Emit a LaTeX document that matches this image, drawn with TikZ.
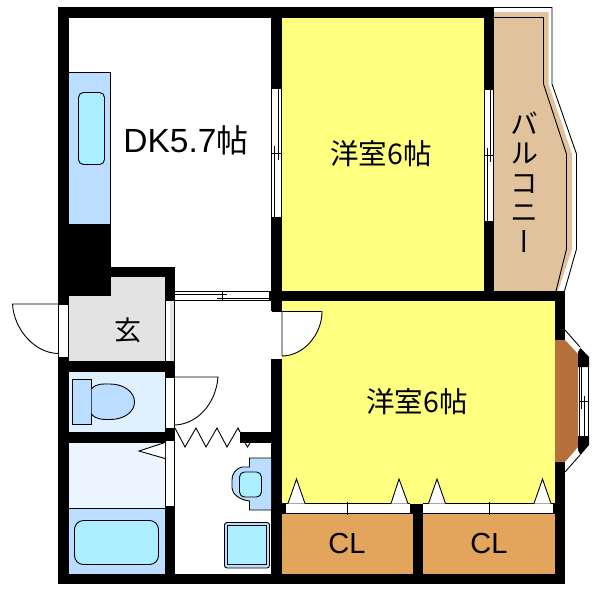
\documentclass[tikz,border=0pt]{standalone}
\usepackage{fontspec}
\setmainfont{Liberation Sans}
\newfontfamily\cjk{Noto Sans CJK JP}
\newfontfamily\cjkv[RawFeature=+vert]{Noto Sans CJK JP}
\definecolor{roomyellow}{HTML}{FFFF80}
\definecolor{counterblue}{HTML}{BBDDFF}
\definecolor{basinblue}{HTML}{AAEEFF}
\definecolor{toiletblue}{HTML}{DFF0FF}
\definecolor{washblue}{HTML}{EAF5FF}
\definecolor{entrygrey}{HTML}{E3E3E3}
\definecolor{balconytan}{HTML}{E0C29C}
\definecolor{closetorange}{HTML}{E3A55B}
\definecolor{baybrown}{HTML}{B5703C}
\tikzset{
  wall/.style={fill=black,draw=none},
  ln/.style={draw=black,line width=0.9pt},
  opening/.style={fill=white,draw=black,line width=0.9pt},
  fixture/.style={fill=counterblue,draw=black,line width=0.9pt},
  basin/.style={fill=basinblue,draw=black,line width=0.9pt},
  lbl/.style={inner sep=0pt,text=black},
}
\begin{document}
\begin{tikzpicture}[x=1pt,y=-1pt,line join=miter]
\useasboundingbox (0,0) rectangle (600,592);
\fill[white] (0,0) rectangle (600,592);
% room floors
\fill[roomyellow] (282,18) rectangle (484,291);
\fill[roomyellow] (282,301) rectangle (555,504);
\fill[closetorange] (282,514) rectangle (413,574);
\fill[closetorange] (423,514) rectangle (555,574);
\fill[entrygrey] (69,296) rectangle (165,361);
\fill[entrygrey] (111,277) rectangle (165,296);
\fill[toiletblue] (69,372) rectangle (165,432);
\fill[washblue] (69,443) rectangle (165,508);
\fill[counterblue] (69,508) rectangle (165,574);
% balcony
\draw[ln] (494,7.5) -- (552,7.5) -- (552,84) -- (576.5,154) -- (576.5,249) -- (564.5,291);
\fill[balconytan] (494,12) -- (548.5,12) -- (548.5,84) -- (572,154) -- (572,249) -- (558,291) -- (494,291) -- cycle;
\draw[ln] (494,17.5) -- (543.5,17.5) -- (543.5,84) -- (566.5,154) -- (566.5,249) -- (556,291);
% kitchen counter
\fill[counterblue] (69,72) rectangle (110.5,224);
\draw[ln] (69,72.5) -- (110.5,72.5) -- (110.5,224);
\draw[basin,rounded corners=5pt] (78.5,92.5) rectangle (104.5,164.5);
% walls
\fill[wall] (58,7) rectangle (494,18);
\fill[wall] (58,7) rectangle (69,304);
\fill[wall] (58,357) rectangle (69,584);
\fill[wall] (58,574) rectangle (565,584);
\fill[wall] (271,7) rectangle (282,89);
\fill[wall] (271,217) rectangle (282,311);
\fill[wall] (271,359) rectangle (282,574);
\fill[wall] (484,7) rectangle (494,90);
\fill[wall] (484,221) rectangle (494,291);
\fill[wall] (269,291) rectangle (565,301);
\fill[wall] (555,291) rectangle (565,340);
\fill[wall] (555,462) rectangle (565,584);
\fill[wall] (69,224) rectangle (111,296);
\fill[wall] (111,267) rectangle (175,277);
\fill[wall] (165,267) rectangle (175,301);
\fill[wall] (58,361) rectangle (175,372);
\fill[wall] (165,361) rectangle (175,377);
\fill[wall] (58,432) rectangle (175,443);
\fill[wall] (165,428) rectangle (175,440);
\fill[wall] (165,506) rectangle (175,574);
\fill[wall] (240,432) rectangle (271,443);
\fill[wall] (413,504) rectangle (423,574);
\fill[wall] (410,504) rectangle (423,514);
\fill[wall] (282,503) rectangle (286,514);
\fill[wall] (553,503) rectangle (555,514);
% sliding window DK / west room
\fill[white] (271,89) rectangle (282,217);
\draw[ln] (271.5,89) -- (271.5,217) (281.5,89) -- (281.5,217);
\draw[ln] (278,89) -- (278,160) (274.5,146) -- (274.5,217) (271.5,153) -- (281.5,153);
% sliding window room / balcony
\fill[white] (484,90) rectangle (494,221);
\draw[ln] (484.5,90) -- (484.5,221) (493.5,90) -- (493.5,221);
\draw[ln] (490.5,90) -- (490.5,162) (487,148) -- (487,221) (484.5,155) -- (493.5,155);
% sliding door DK / hall
\draw[ln] (175,291.5) -- (269,291.5) (175,300.5) -- (269,300.5);
\draw[ln] (175,294) -- (227,294) (217,298) -- (269,298) (222,291.5) -- (222,300.5);
% entrance side strip
\fill[white] (165,301) rectangle (170,361);
\fill[entrygrey] (170,301) rectangle (174,361);
\draw[ln] (165.5,301) -- (165.5,361) (174.5,301) -- (174.5,361);
% entrance door
\draw[opening] (58.5,304) rectangle (68.5,357);
\draw[ln] (58,304) -- (12.5,304) .. controls (14,330) and (35,353) .. (58,353.5);
% toilet
\draw[fixture] (72.5,379) rectangle (91.5,424);
\draw[fixture] (91.5,389) .. controls (96,383) and (104,384) .. (110,384) .. controls (124,384) and (134.5,392) .. (134.5,402) .. controls (134.5,412) and (124,419.5) .. (110,419.5) .. controls (104,419.5) and (96,420) .. (91.5,414);
\draw[opening] (165.5,377) rectangle (174.5,428);
\draw[ln] (175,377) -- (218,377) .. controls (216,403) and (198,424) .. (175,425);
% accordion door
\draw[ln] (175,428) -- (185,447) -- (196,428) -- (206,447) -- (217,428) -- (227,447) -- (238,428) -- (240,432);
\draw[ln] (245,443) -- (247.5,447) -- (250,443);
% bath
\draw[opening] (165.5,440) rectangle (174.5,506);
\draw[fill=white,ln] (165,442.5) -- (139,451) -- (165,458.5);
\draw[ln] (69,508) -- (165,508);
\draw[basin,rounded corners=9pt] (74.5,520.5) rectangle (158.5,564.5);
% washbasin
\draw[fixture] (271,458) -- (249.5,458) -- (249.5,467) -- (242,467) .. controls (235,469) and (232,474) .. (232,480) -- (232,488) .. controls (232,494) and (240,500) .. (249.5,501) -- (249.5,510) -- (271,510);
\draw[basin,rounded corners=5pt] (239.5,472) rectangle (261.5,497);
% washer
\draw[fixture,rounded corners=2.5pt] (224.5,522.5) rectangle (269.5,568);
\draw[basin] (227.5,525.5) rectangle (266.5,564.5);
% lower room door
\fill[white] (271,311) rectangle (282,359);
\draw[fill=white,ln] (282,311.5) -- (322,311.5) .. controls (322,335) and (303,356) .. (282,356) -- cycle;
\draw[ln] (271.5,311) -- (281.5,311);
% closet doors
\fill[white] (286,504) rectangle (410,514);
\fill[white] (423,504) rectangle (553,514);
\draw[ln] (286,503.5) -- (410,503.5) (282,513.5) -- (413,513.5) (347.5,502) -- (347.5,515);
\draw[ln] (423,503.5) -- (553.5,503.5) (423,513.5) -- (555,513.5) (489.5,502) -- (489.5,515);
\draw[opening] (288,503.5) -- (296.5,479) -- (305,503.5);
\draw[opening] (391,503.5) -- (399,479) -- (408,503.5);
\draw[opening] (428.5,503.5) -- (437,479) -- (445.5,503.5);
\draw[opening] (534,503.5) -- (542.5,479) -- (551,503.5);
% bay window
\fill[baybrown] (555,340) -- (565,340) -- (578,354) -- (578,447) -- (565,462) -- (555,462) -- cycle;
\draw[ln] (565,330) -- (580,347);
\draw[ln] (565,472) -- (580,455);
\fill[white] (579,366) rectangle (589,436);
\fill[wall] (578,352) -- (580.5,348) -- (589,357) -- (589,367) -- (578,367) -- cycle;
\fill[wall] (578,436) -- (589,436) -- (589,445) -- (580.5,455) -- (578,450) -- cycle;
\draw[ln] (579,366) -- (579,436) (588.5,366) -- (588.5,436);
\draw[ln] (581.5,366) -- (581.5,409) (584.5,396) -- (584.5,436) (579,401) -- (588.5,401);
% labels
\node[lbl,font=\fontsize{33.5}{33.5}\selectfont] (dk) at (186,140) {DK5.7{\cjk\fontsize{32}{32}\selectfont 帖}};
\node[lbl,font=\cjk\fontsize{28.5}{28.5}\selectfont] (west1) at (381,154) {洋室6帖};
\node[lbl,font=\cjk\fontsize{28.5}{28.5}\selectfont] (west2) at (417,402) {洋室6帖};
\node[lbl,font=\cjk\fontsize{27}{27}\selectfont] (entry) at (128,330) {玄};
\node[lbl,font=\fontsize{29}{29}\selectfont] (cl1) at (347,544) {CL};
\node[lbl,font=\fontsize{29}{29}\selectfont] (cl2) at (489,544) {CL};
\node[lbl,align=center,font=\cjkv\fontsize{28}{29.5}\selectfont] (balc) at (524,182) {バ\\ル\\コ\\ニ\\ー};
\end{tikzpicture}
\end{document}
